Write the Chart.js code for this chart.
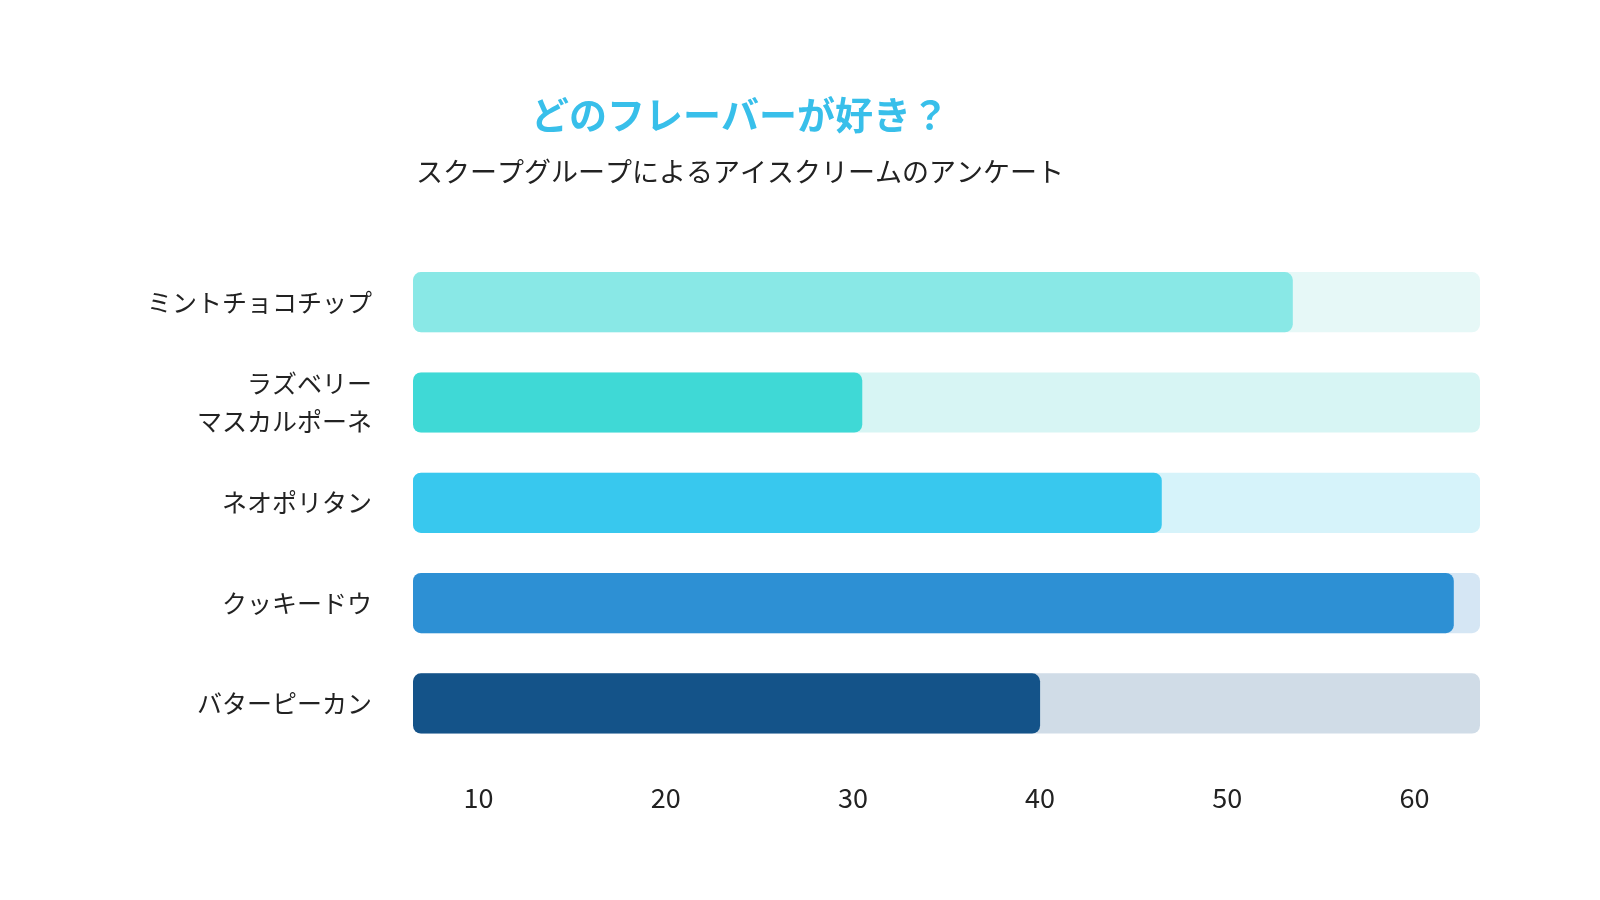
<!DOCTYPE html>
<html><head><meta charset="utf-8">
<script src="https://cdn.jsdelivr.net/npm/chart.js@4"></script>
<style>
html,body{margin:0;background:#fff;}
#wrap{position:relative;width:1600px;height:900px;}
</style></head>
<body><div id="wrap"><canvas id="chart" width="1600" height="900"></canvas></div>
<script>
var categories = [['ミントチョコチップ'], ['ラズベリー', 'マスカルポーネ'], ['ネオポリタン'], ['クッキードウ'], ['バターピーカン']];
var values = [53.5, 30.5, 46.5, 62.1, 40];
var tickValues = [10, 20, 30, 40, 50, 60];
var axisMin = 6.5, axisMax = 63.5;
var barColors = ['#89e8e6', '#3fd9d6', '#38c8ee', '#2d90d4', '#145389'];
var trackColors = ['#e6f8f7', '#d7f5f4', '#d6f3fa', '#d5e6f4', '#d0dce7'];

var ctx = document.getElementById('chart');
new Chart(ctx, {
  type: 'bar',
  data: {
    labels: categories,
    datasets: [
      { data: values.map(function(v){ return [axisMin, v]; }), backgroundColor: barColors, order: 0 },
      { data: values.map(function(){ return [axisMin, axisMax]; }), backgroundColor: trackColors, order: 1 }
    ]
  },
  options: {
    responsive: false,
    animation: false,
    indexAxis: 'y',
    layout: { padding: { top: 44, left: 0, right: 120, bottom: 66 } },
    datasets: { bar: { grouped: false, barPercentage: 0.6, categoryPercentage: 1, borderRadius: 8, borderSkipped: false } },
    plugins: {
      legend: { display: false },
      tooltip: { enabled: false },
      title: { display: true, text: 'どのフレーバーが好き？', color: '#38bfea',
        font: { family: 'Noto Sans CJK JP', size: 38, weight: 'bold' }, padding: { top: 48, bottom: 18 } },
      subtitle: { display: true, text: 'スクープグループによるアイスクリームのアンケート', color: '#222',
        font: { family: 'Noto Sans CJK JP', size: 27 }, padding: { bottom: 64 } }
    },
    scales: {
      x: {
        min: axisMin, max: axisMax,
        afterBuildTicks: function(axis){ axis.ticks = tickValues.map(function(v){ return { value: v }; }); },
        grid: { display: false }, border: { display: false },
        ticks: { color: '#222', font: { family: 'Noto Sans CJK JP', size: 27 }, padding: 20 }
      },
      y: {
        afterFit: function(axis){ axis.width = 413; },
        grid: { display: false }, border: { display: false },
        ticks: { color: '#222', font: { family: 'Noto Sans CJK JP', size: 25, lineHeight: 1.55 }, padding: 33 }
      }
    }
  }
});
</script></body></html>
